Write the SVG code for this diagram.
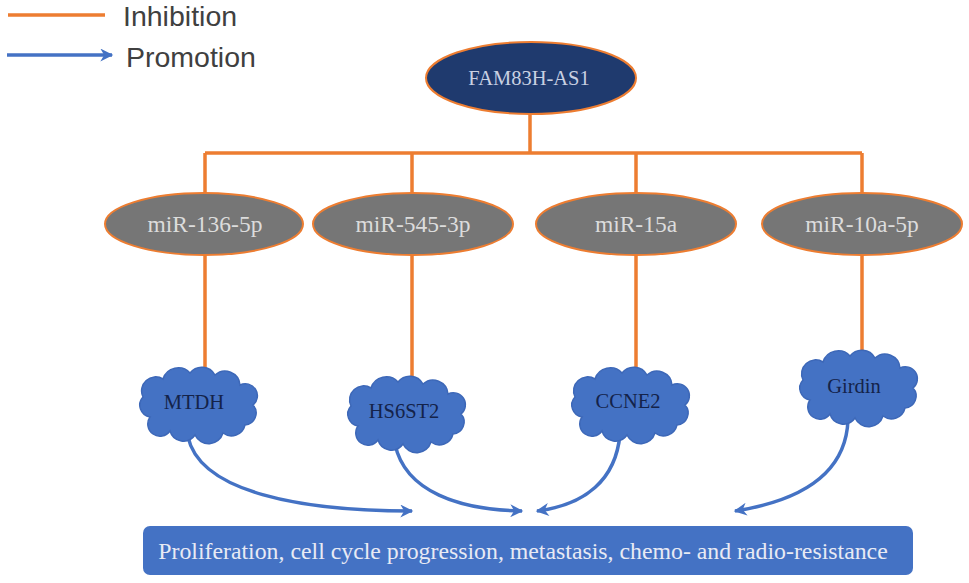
<svg xmlns="http://www.w3.org/2000/svg" width="969" height="583" viewBox="0 0 969 583">
<defs>
<style>
.inh{stroke:#ED7D31;stroke-width:3.5;fill:none}
.pro{stroke:#4472C4;stroke-width:3.5;fill:none;marker-end:url(#ah)}
.mir{fill:#767676;stroke:#ED7D31;stroke-width:2}
.mirt{font-family:"Liberation Serif",serif;font-size:23.5px;fill:#dcdcdc;text-anchor:middle}
.cloud{fill:#4472C4;stroke:#3d68b8;stroke-width:1.5}
.ct{font-family:"Liberation Serif",serif;font-size:20.5px;fill:#14234a;text-anchor:middle}
.leg{font-family:"Liberation Sans",Arial,sans-serif;font-size:28.5px;fill:#404040}
</style>
<marker id="ah" viewBox="0 0 10 10" refX="9" refY="5" markerUnits="userSpaceOnUse" markerWidth="15" markerHeight="13" orient="auto">
<path d="M0,0 L10,5 L0,10 L3,5 Z" fill="#4472C4"/>
</marker>
<path id="cl" d="M15,50 A12,12 0 0 1 8,30 A14,14 0 0 1 28,12 A16,16 0 0 1 55,6 A15,15 0 0 1 80,8 A15,15 0 0 1 105,18 A12,12 0 0 1 118,38 A12,12 0 0 1 110,58 A14,14 0 0 1 88,66 A15,15 0 0 1 60,68 A14,14 0 0 1 35,64 A12,12 0 0 1 15,50 Z"/>
</defs>
<rect width="969" height="583" fill="#fff"/>

<g id="legend">
<line x1="8" y1="15" x2="105" y2="15" class="inh"/>
<text x="123" y="26" class="leg">Inhibition</text>
<line x1="7" y1="55" x2="112" y2="55" class="pro"/>
<text x="126" y="67" class="leg">Promotion</text>
</g>

<g id="connectors">
<path class="inh" d="M530,113 V153 M205,153 H862 M205,153 V194 M412,153 V194 M636,153 V194 M862,153 V194"/>
<path class="inh" d="M205,255 V372 M412,255 V385 M636,255 V373 M862,255 V356"/>
<path class="pro" d="M188,437 C200,492 300,511 412,511"/>
<path class="pro" d="M395,444 C405,492 460,510 522,511"/>
<path class="pro" d="M620,434 C616,480 585,505 537,511"/>
<path class="pro" d="M848,420 C846,472 805,500 735,511"/>
</g>

<g id="FAM83H-AS1">
<ellipse cx="531" cy="78" rx="105" ry="36" fill="#1F3A6E" stroke="#ED7D31" stroke-width="2"/>
<text x="529" y="85" font-family="Liberation Serif,serif" font-size="20.5" fill="#c8d0e2" text-anchor="middle">FAM83H-AS1</text>
</g>

<g id="miR-136-5p"><ellipse class="mir" cx="204" cy="224" rx="99" ry="31"/><text class="mirt" x="205" y="232">miR-136-5p</text></g>
<g id="miR-545-3p"><ellipse class="mir" cx="413" cy="224" rx="100" ry="31"/><text class="mirt" x="413" y="232">miR-545-3p</text></g>
<g id="miR-15a"><ellipse class="mir" cx="636" cy="224" rx="100" ry="31"/><text class="mirt" x="636" y="232">miR-15a</text></g>
<g id="miR-10a-5p"><ellipse class="mir" cx="862" cy="224" rx="100" ry="31"/><text class="mirt" x="862" y="232">miR-10a-5p</text></g>

<g id="MTDH"><use href="#cl" class="cloud" transform="translate(135,367)"/><text class="ct" x="194" y="409">MTDH</text></g>
<g id="HS6ST2"><use href="#cl" class="cloud" transform="translate(343,376)"/><text class="ct" x="404" y="418">HS6ST2</text></g>
<g id="CCNE2"><use href="#cl" class="cloud" transform="translate(567,367)"/><text class="ct" x="628" y="408">CCNE2</text></g>
<g id="Girdin"><use href="#cl" class="cloud" transform="translate(795,350)"/><text class="ct" x="854" y="393">Girdin</text></g>

<g id="outcome">
<rect x="143" y="526" width="770" height="49" rx="7" fill="#4472C4"/>
<text x="523" y="559" font-family="Liberation Serif,serif" font-size="23.8" fill="#e8eaf4" text-anchor="middle">Proliferation, cell cycle progression, metastasis, chemo- and radio-resistance</text>
</g>
</svg>
